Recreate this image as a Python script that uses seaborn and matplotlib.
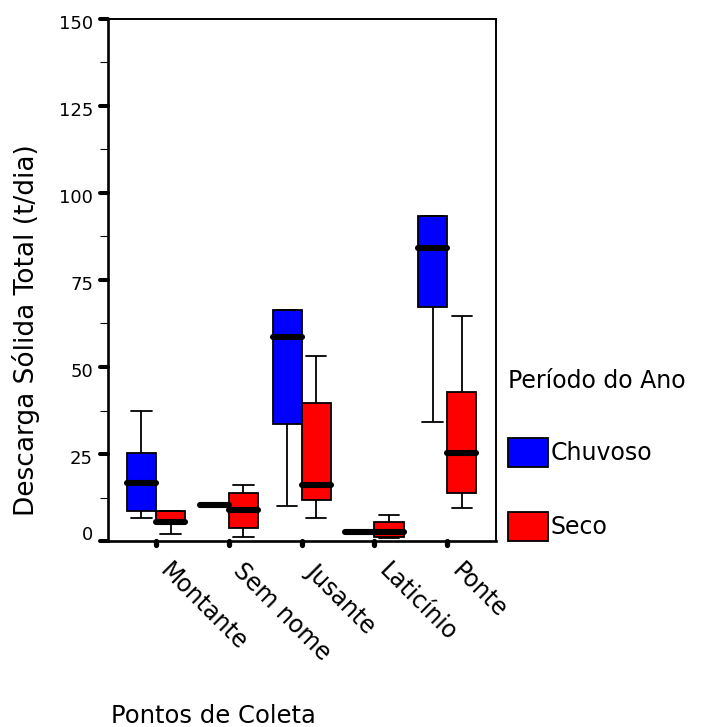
import matplotlib
matplotlib.use("Agg")
import matplotlib.pyplot as plt
from matplotlib.markers import MarkerStyle
from matplotlib.ticker import MultipleLocator
from matplotlib.transforms import ScaledTranslation
import pandas as pd
import seaborn as sns

# Sampling points and seasons
pontos = ["Montante", "Sem nome", "Jusante", "Laticínio", "Ponte"]
periodos = ["Chuvoso", "Seco"]
cores = ["#0000FF", "#FF0000"]

# Five-number summaries (min, Q1, median, Q3, max) of total solid discharge, t/dia
chuvoso = [
    [6.5, 8.7, 16.6, 25.2, 37.5],      # Montante
    [10.3, 10.3, 10.3, 10.3, 10.3],    # Sem nome
    [10.0, 33.7, 58.6, 66.3, 66.3],    # Jusante
    [2.6, 2.6, 2.6, 2.6, 2.6],         # Laticínio
    [34.2, 67.3, 84.2, 93.5, 93.5],    # Ponte
]
seco = [
    [2.1, 5.0, 5.4, 8.7, 8.7],         # Montante
    [1.2, 3.6, 8.9, 13.7, 16.1],       # Sem nome
    [6.5, 11.8, 16.1, 39.6, 53.1],     # Jusante
    [1.0, 1.2, 2.6, 5.4, 7.4],         # Laticínio
    [9.5, 13.7, 25.4, 42.8, 64.7],     # Ponte
]

y_ticks = [0, 25, 50, 75, 100, 125, 150]

registros = []
for periodo, resumo in zip(periodos, [chuvoso, seco]):
    for ponto, valores in zip(pontos, resumo):
        for v in valores:
            registros.append({"Ponto": ponto, "Período": periodo, "Descarga": v})
df = pd.DataFrame(registros)

sns.set_style("white")
plt.rcParams["font.family"] = ["DejaVu Sans"]
plt.rcParams["text.color"] = "black"
plt.rcParams["axes.labelcolor"] = "black"
plt.rcParams["xtick.color"] = "black"
plt.rcParams["ytick.color"] = "black"

W, H = 702, 727
fig = plt.figure(figsize=(W / 100, H / 100), dpi=100)
ax = fig.add_axes([108 / W, 1 - 541 / H, 388 / W, 522 / H])

sns.boxplot(
    data=df, x="Ponto", y="Descarga", hue="Período",
    order=pontos, hue_order=periodos,
    palette=dict(zip(periodos, cores)), saturation=1,
    whis=(0, 100), width=0.8, gap=0,
    linecolor="black", linewidth=1.3, showfliers=False,
    capwidths=0.28,
    medianprops=dict(color="black", linewidth=4.4, solid_capstyle="round"),
    ax=ax,
)

ax.set_xlim(-0.66, 4.67)
ax.set_ylim(0, 150)
ax.set_yticks(y_ticks)
ax.yaxis.set_minor_locator(MultipleLocator(12.5))
ax.set_xticks(range(len(pontos)))
ax.set_xticklabels(pontos, rotation=-45, ha="left", va="center",
                   rotation_mode="anchor")

ax.tick_params(axis="y", which="major", left=True, length=5.8, width=2.9,
               color="black", pad=5, labelsize=13)
ax.tick_params(axis="y", which="minor", left=True, length=5.8, width=0.8,
               color="black")
ax.tick_params(axis="x", which="major", bottom=True, length=3, width=3.8,
               color="black", pad=16, labelsize=17)

for tick in ax.yaxis.get_major_ticks() + ax.xaxis.get_major_ticks():
    tick.tick1line.set_marker(MarkerStyle(tick.tick1line.get_marker(),
                                          capstyle="round"))

for i, lbl in enumerate(ax.get_yticklabels()):
    dy = 8 if i == 0 else -3
    lbl.set_transform(lbl.get_transform()
                      + ScaledTranslation(0, dy / 100, fig.dpi_scale_trans))
for lbl in ax.get_xticklabels():
    lbl.set_transform(lbl.get_transform()
                      + ScaledTranslation(8 / 100, 0, fig.dpi_scale_trans))

for sp in ax.spines.values():
    sp.set_color("black")
    sp.set_linewidth(1.4)
ax.spines["left"].set_linewidth(1.9)
ax.spines["bottom"].set_linewidth(1.9)

ax.set_ylabel("Descarga Sólida Total (t/dia)", fontsize=19, va="center")
ax.yaxis.set_label_coords(-0.211, 0.404)
ax.set_xlabel("Pontos de Coleta", fontsize=17.5, va="center")
ax.xaxis.set_label_coords(0.272, -0.335)

handles, labels = ax.get_legend_handles_labels()
ax.legend(
    handles, labels, title="Período do Ano",
    loc="upper left", bbox_to_anchor=(508 / W, 1 - 369 / H),
    bbox_transform=fig.transFigure, frameon=False,
    fontsize=17, title_fontsize=17,
    handlelength=1.69, handleheight=1.51, handletextpad=0.1,
    labelspacing=1.9, alignment="left", borderpad=0, borderaxespad=0,
)

fig.savefig("out.png", dpi=100)
